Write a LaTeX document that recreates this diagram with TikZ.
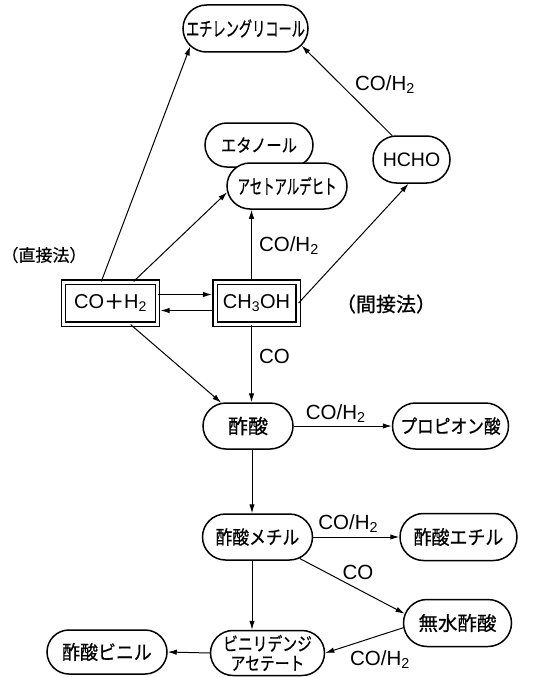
\documentclass[tikz,border=0pt]{standalone}
\usepackage{fontspec}
\setmainfont{Liberation Sans}
\newfontfamily\jp[FakeBold=0.6]{Noto Sans CJK JP}
\usetikzlibrary{arrows.meta,calc,shapes.misc}
\newcommand\jsize[1]{\jp\fontsize{#1}{#1}\selectfont}
\newcommand\jsz[2]{\jp\fontsize{#1}{#1}\selectfont\addfontfeatures{FakeStretch=#2}}
\newcommand\lsize[1]{\fontsize{#1}{#1}\selectfont}
\tikzset{
  pill/.style={draw, line width=1.5pt, rounded rectangle, inner xsep=0pt, inner ysep=0pt, align=center, fill=white},
  dbox/.style={draw, rectangle, double, double distance=3pt, line width=1.2pt, inner sep=0pt, font=\lsize{20}},
  arr/.style={-{Latex[length=9pt,width=5.5pt]}, line width=1pt},
  lab/.style={font=\lsize{20.5}, inner sep=2pt},
}
\begin{document}
\begin{tikzpicture}[x=1pt,y=-1pt]
\useasboundingbox (0,0) rectangle (541,677);
% nodes
\node[pill, minimum width=125pt, minimum height=47pt, font=\jsz{20}{0.66}] (eg) at (245.5,28.5) {エチレングリコール};
\node[pill, minimum width=108pt, minimum height=44pt, font=\jsz{18}{0.85}] (eth) at (259,145) {エタノール};
\node[pill, minimum width=120pt, minimum height=46pt, font=\jsz{20}{0.62}] (ace) at (287,186) {アセトアルデヒト};
\node[pill, minimum width=77pt, minimum height=47pt, font=\lsize{19.5}] (hcho) at (411.5,159.5) {HCHO};
\node[dbox, minimum width=94pt, minimum height=42pt] (co) at (110.5,303) {CO{\jsize{20}＋}H\textsubscript{2}};
\node[dbox, minimum width=83pt, minimum height=42pt] (me) at (256.5,303) {CH\textsubscript{3}OH};
\node[pill, minimum width=90pt, minimum height=46pt, font=\jsize{20}] (aa) at (248,426) {酢酸};
\node[pill, minimum width=116pt, minimum height=46pt, font=\jsz{19}{0.88}] (pa) at (450.5,426) {プロピオン酸};
\node[pill, minimum width=110pt, minimum height=46pt, font=\jsz{19}{0.88}] (ma) at (257.5,537) {酢酸メチル};
\node[pill, minimum width=117pt, minimum height=47pt, font=\jsz{19.5}{0.92}] (ea) at (458.5,537) {酢酸エチル};
\node[pill, minimum width=108pt, minimum height=47pt, font=\jsize{19.5}] (anh) at (457.5,623) {無水酢酸};
\node[pill, minimum width=114pt, minimum height=45pt, font={\jp\fontsize{18.5}{19.5}\selectfont\addfontfeatures{FakeStretch=0.8}}] (vd) at (267.5,653) {ビニリデンジ\\アセテート};
\node[pill, minimum width=120pt, minimum height=44pt, font=\jsz{19.5}{0.92}] (va) at (107,652) {酢酸ビニル};
% free labels
\node[font=\jsize{17}, inner sep=0pt] (dir) at (44,255) {（直接法）};
\node[font=\jsize{20}, inner sep=0pt] (ind) at (386,304) {（間接法）};
% connectors
\draw[arr] (co.113) -- (eg.198);
\draw[arr] (co.43) -- (ace.186);
\coordinate (m1) at ($(me.north)+(-5,0)$);
\draw[arr] (m1) -- (m1 |- ace.south) node[lab, midway, right=5pt] {CO/H\textsubscript{2}};
\draw[arr] (me.east) -- ($(hcho.south)+(-3,0)$);
\draw[arr] (hcho.129) -- (eg.-17);
\node[lab] (l1) at (385,85) {CO/H\textsubscript{2}};
\draw[arr, shorten >=2.5pt] ($(co.east)+(0,-8.5)$) -- ($(me.west)+(0,-8.5)$);
\draw[arr, shorten >=2.5pt] ($(me.west)+(0,7.5)$) -- ($(co.east)+(0,7.5)$);
\draw[arr] (co.313) -- (aa.139);
\coordinate (m2) at ($(me.south)+(-5,0)$);
\draw[arr] (m2) -- (m2 |- aa.north) node[lab, midway, right=5pt, yshift=7pt] {CO};
\draw[arr] (aa.east) -- (pa.west) node[lab, midway, above=1pt, xshift=-7pt] {CO/H\textsubscript{2}};
\coordinate (a1) at ($(aa.south)+(4,0)$);
\draw[arr] (a1) -- (a1 |- ma.north);
\draw[arr] (ma.east) -- (ea.west) node[lab, midway, above=2pt, xshift=-8pt] {CO/H\textsubscript{2}};
\draw[arr] (ma.333) -- (anh.170);
\node[lab] (l2) at (358,572) {CO};
\coordinate (b1) at ($(ma.south)+(-5.5,0)$);
\draw[arr] (b1) -- (b1 |- vd.north);
\draw[arr] (anh.185) -- (vd.east);
\node[lab] (l3) at (380,660) {CO/H\textsubscript{2}};
\draw[arr] (vd.west) -- (va.east);
\end{tikzpicture}
\end{document}
